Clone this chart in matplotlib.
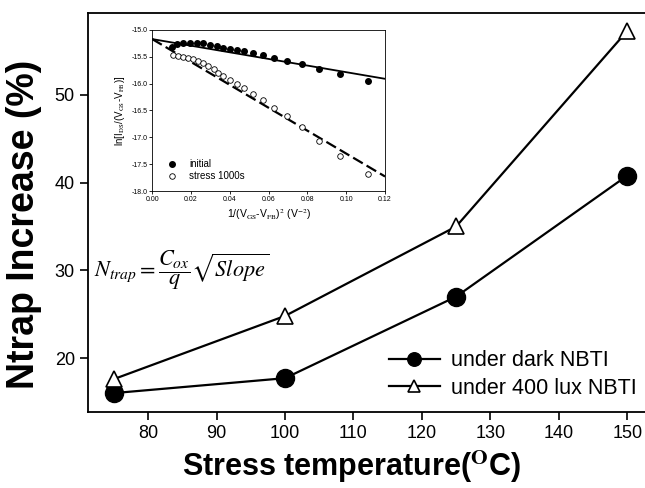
import numpy as np
import matplotlib
matplotlib.use('Agg')
import matplotlib.pyplot as plt

plt.rcParams['font.family'] = ['Liberation Sans', 'DejaVu Sans']
plt.rcParams['mathtext.fontset'] = 'stix'

# main data: N_trap increase vs stress temperature
temp = [75, 100, 125, 150]
dark = [16.0, 17.7, 27.0, 40.8]
lux400 = [17.6, 24.8, 35.0, 57.3]

# inset data: ln[Ids/(Vgs-Vfb)] vs 1/(Vgs-Vfb)^2
init_x = [0.0103, 0.0126, 0.0160, 0.0195, 0.0229, 0.0264, 0.0298, 0.0333, 0.0367,
          0.0402, 0.0436, 0.0474, 0.0517, 0.0569, 0.0626, 0.0693, 0.0774, 0.0862,
          0.0970, 0.1110]
init_y = [-15.31, -15.27, -15.25, -15.24, -15.25, -15.25, -15.28, -15.30, -15.33,
          -15.35, -15.37, -15.39, -15.43, -15.47, -15.52, -15.58, -15.64, -15.73,
          -15.82, -15.95]
stress_x = [0.0105, 0.0134, 0.0160, 0.0186, 0.0212, 0.0238, 0.0264, 0.0290, 0.0316,
            0.0340, 0.0367, 0.0402, 0.0436, 0.0474, 0.0517, 0.0569, 0.0626, 0.0693,
            0.0772, 0.0862, 0.0970, 0.1110]
stress_y = [-15.46, -15.48, -15.51, -15.53, -15.55, -15.58, -15.62, -15.67, -15.73,
            -15.80, -15.86, -15.94, -16.01, -16.09, -16.20, -16.30, -16.45, -16.61,
            -16.81, -17.06, -17.34, -17.68]
fit_x = [0.0, 0.12]
init_fit = [-15.17, -15.91]
stress_fit = [-15.17, -17.73]

fig = plt.figure(figsize=(6.45, 4.88), dpi=100)
ax = fig.add_axes([0.1364, 0.1557, 0.8636, 0.8177])

ax.plot(temp, dark, '-o', color='black', lw=1.6, ms=13, mfc='black', mec='black',
        label='under dark NBTI', zorder=3)
ax.plot(temp, lux400, '-^', color='black', lw=1.6, ms=12, mfc='white', mec='black',
        mew=1.2, label='under 400 lux NBTI', zorder=3)

ax.set_xlim(71.2, 152.6)
ax.set_ylim(13.84, 59.35)
ax.set_xticks(np.arange(80, 151, 10))
ax.set_yticks([20, 30, 40, 50])
ax.tick_params(direction='out', length=6, width=1.2, labelsize=13)
ax.spines['right'].set_visible(False)
for s in ['left', 'top', 'bottom']:
    ax.spines[s].set_linewidth(1.3)

ax.set_xlabel(r'Stress temperature($^{\mathbf{O}}$C)', fontsize=22, fontweight='bold')
ax.xaxis.set_label_coords(0.473, -0.09)
ax.set_ylabel('Ntrap Increase (%)', fontsize=27, fontweight='bold')
ax.yaxis.set_label_coords(-0.082, 0.47)

ax.legend(loc='lower right', bbox_to_anchor=(1.02, -0.015), frameon=False, fontsize=15.5,
          markerscale=0.75, handlelength=2.4, handletextpad=0.5, labelspacing=0.3)

fig.text(0.281, 0.447, r'$N_{trap}=\dfrac{C_{ox}}{q}\sqrt{Slope}$', fontsize=16,
         ha='center', va='center')

# inset
ins = fig.add_axes([0.236, 0.6086, 0.361, 0.330])
ins.plot(fit_x, init_fit, '-', color='black', lw=1.3)
ins.plot(fit_x, stress_fit, '--', color='black', lw=1.6, dashes=(5, 2))
ins.plot(init_x, init_y, 'o', color='black', ms=4, label='initial')
ins.plot(stress_x, stress_y, 'o', mfc='white', mec='black', ms=4, mew=0.6,
         label='stress 1000s')
ins.set_xlim(0, 0.12)
ins.set_ylim(-18.0, -15.0)
ins.set_xticks(np.arange(0, 0.121, 0.02))
ins.set_yticks(np.arange(-18.0, -14.99, 0.5))
ins.xaxis.set_major_formatter(matplotlib.ticker.FormatStrFormatter('%.2f'))
ins.yaxis.set_major_formatter(matplotlib.ticker.FormatStrFormatter('%.1f'))
ins.tick_params(direction='out', length=2, width=0.6, labelsize=5, pad=1.5)
for s in ins.spines.values():
    s.set_linewidth(0.6)
ins.set_xlabel(r'1/(V$_{\rm GS}$-V$_{\rm FB}$)$^{2}$ (V$^{-2}$)', fontsize=7.5, labelpad=3)
ins.set_ylabel(r'ln[I$_{\rm DS}$/(V$_{\rm GS}$-V$_{\rm FB}$)]', fontsize=7, labelpad=3)
ins.legend(loc='lower left', frameon=False, fontsize=7, handletextpad=0.8,
           labelspacing=0.2, borderaxespad=0.6)

fig.savefig('out.png', dpi=100)
